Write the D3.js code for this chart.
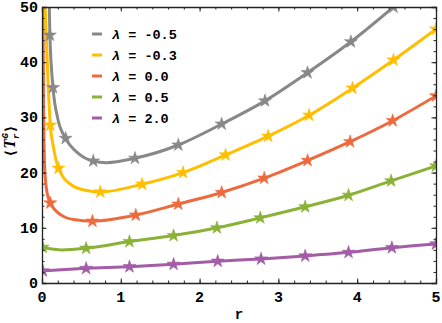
<!DOCTYPE html>
<html>
<head>
<meta charset="utf-8">
<script src="https://cdn.jsdelivr.net/npm/d3@7"></script>
<style>
  body { margin: 0; background: #fff; }
  text { font-family: "Liberation Mono", "DejaVu Sans Mono", monospace; font-weight: bold; }
</style>
</head>
<body>
<div id="container"></div>
<script>
var margin = {top: 7, right: 6, bottom: 40, left: 42},
    width = 442 - margin.left - margin.right,
    height = 323 - margin.top - margin.bottom;

// legend labels and colours
var lambdas = ["-0.5", "-0.3", "0.0", "0.5", "2.0"];
var colors = ["#888888", "#FFBF00", "#EE6A3C", "#8AB236", "#A35CA6"];

// curve points [r, <T>]
var curveM05 = [[0.093,50],[0.10,44.9],[0.14,35.4],[0.2,29.8],[0.3,26.2],[0.46,23.5],[0.65,22.1],[0.82,21.8],[1.18,22.6],[1.73,25.0],[2.28,28.8],[2.83,33.0],[3.37,38.1],[3.92,43.7],[4.46,50],[4.6,51.7]];
var curveM03 = [[0.04,50],[0.067,40],[0.105,28.6],[0.14,25],[0.21,20.8],[0.37,17.8],[0.55,16.8],[0.74,16.5],[1.27,17.9],[1.79,20.0],[2.33,23.2],[2.87,26.6],[3.39,30.4],[3.94,35.3],[4.46,40.4],[5,46.0]];
var curve00  = [[0.012,50],[0.02,32],[0.03,22.3],[0.045,18.5],[0.07,16],[0.105,14.5],[0.245,12.3],[0.4,11.5],[0.64,11.2],[1.19,12.3],[1.73,14.3],[2.28,16.4],[2.82,19.0],[3.37,22.2],[3.91,25.6],[4.45,29.4],[5,33.9]];
var curve05  = [[0,6.5],[0.1,6.2],[0.25,6.0],[0.56,6.3],[1.11,7.5],[1.67,8.6],[2.22,10.0],[2.77,11.8],[3.34,13.8],[3.89,15.9],[4.43,18.5],[5,21.2]];
var curve20  = [[0,2.2],[0.56,2.65],[1.11,2.95],[1.67,3.4],[2.23,3.95],[2.78,4.35],[3.34,4.9],[3.89,5.55],[4.44,6.4],[5,7.07]];

// r positions of the star markers on each curve
var starsM05 = [0.10,0.14,0.3,0.65,1.18,1.73,2.28,2.83,3.37,3.92,4.46];
var starsM03 = [0.105,0.21,0.74,1.27,1.79,2.33,2.87,3.39,3.94,4.46,5];
var stars00  = [0.105,0.64,1.19,1.73,2.28,2.82,3.37,3.91,4.45,5];
var stars05  = [0.01,0.56,1.11,1.67,2.22,2.77,3.34,3.89,4.43,5];
var stars20  = [0.01,0.56,1.11,1.67,2.23,2.78,3.34,3.89,4.44,5];

var xTicks = [0, 1, 2, 3, 4, 5];
var yTicks = [0, 10, 20, 30, 40, 50];

var curves = [curveM05, curveM03, curve00, curve05, curve20];
var stars = [starsM05, starsM03, stars00, stars05, stars20];

var svg = d3.select("#container")
  .append("svg")
    .attr("width", width + margin.left + margin.right)
    .attr("height", height + margin.top + margin.bottom)
  .append("g")
    .attr("transform", "translate(" + margin.left + "," + margin.top + ")");

var x = d3.scaleLinear().domain([0, 5]).range([0, width]);
var y = d3.scaleLinear().domain([0, 50]).range([height, 0]);

svg.append("clipPath").attr("id", "clip")
  .append("rect").attr("width", width).attr("height", height);

var line = d3.line()
    .x(function(d) { return x(d[0]); })
    .y(function(d) { return y(d[1]); })
    .curve(d3.curveMonotoneX);

// value on a curve at r, by walking the drawn path
function valueAt(path, px) {
  var len = path.getTotalLength(), lo = 0, hi = len;
  for (var i = 0; i < 40; i++) {
    var mid = (lo + hi) / 2, p = path.getPointAtLength(mid);
    if (p.x < px) lo = mid; else hi = mid;
  }
  return path.getPointAtLength((lo + hi) / 2).y;
}

var plot = svg.append("g").attr("clip-path", "url(#clip)");
var star = d3.symbol().type(d3.symbolStar).size(52);

// draw from last to first so gray sits on top
for (var i = curves.length - 1; i >= 0; i--) {
  var p = plot.append("path")
    .datum(curves[i])
    .attr("fill", "none")
    .attr("stroke", colors[i])
    .attr("stroke-width", 3)
    .attr("d", line);
  var node = p.node();
  plot.selectAll(".s" + i)
    .data(stars[i])
    .enter().append("path")
      .attr("class", "s" + i)
      .attr("d", star)
      .attr("fill", colors[i])
      .attr("stroke", colors[i])
      .attr("stroke-width", 0.6)
      .attr("transform", function(r) {
        return "translate(" + x(r) + "," + valueAt(node, x(r)) + ")";
      });
}

// frame with inward ticks
function frame(axis, tr, minor, major, scale) {
  var g = svg.append("g").attr("transform", tr);
  g.call(axis(scale).tickValues(minor).tickSize(-2.5).tickFormat(""));
  g.call(function(s) { s.select(".domain").remove(); });
  var g2 = svg.append("g").attr("transform", tr);
  g2.call(axis(scale).tickValues(major).tickSize(-4.5).tickFormat(""));
  return g2;
}
var xMinor = d3.range(0, 5.01, 0.2), yMinor = d3.range(0, 50.1, 2);
frame(d3.axisBottom, "translate(0," + height + ")", xMinor, xTicks, x);
frame(d3.axisTop, "translate(0,0)", xMinor, xTicks, x);
frame(d3.axisLeft, "translate(0,0)", yMinor, yTicks, y);
frame(d3.axisRight, "translate(" + width + ",0)", yMinor, yTicks, y);
svg.selectAll(".domain").attr("stroke", "#222").attr("stroke-width", 1.3);
svg.selectAll(".tick line").attr("stroke", "#222");

// tick labels
svg.selectAll(".xl").data(xTicks).enter().append("text")
  .attr("x", function(d) { return x(d); })
  .attr("y", height + 19)
  .attr("text-anchor", "middle")
  .style("font-size", "15px")
  .text(function(d) { return d; });
svg.selectAll(".yl").data(yTicks).enter().append("text")
  .attr("x", -4)
  .attr("y", function(d) { return y(d) + 5; })
  .attr("text-anchor", "end")
  .style("font-size", "15px")
  .text(function(d) { return d; });

svg.append("text")
  .attr("x", width / 2)
  .attr("y", height + 36)
  .attr("text-anchor", "middle")
  .style("font-size", "14px")
  .text("r");

var yl = svg.append("text")
  .attr("transform", "translate(-27," + (y(25) - 4) + ") rotate(-90)")
  .attr("text-anchor", "middle")
  .style("font-size", "14px");
yl.append("tspan").text("\u27E8");
yl.append("tspan").style("font-family", "Liberation Serif").style("font-style", "italic").style("font-size", "16px").text("T");
yl.append("tspan").attr("dy", 4).style("font-size", "9px").style("font-style", "italic").text("r");
yl.append("tspan").attr("dx", -5).attr("dy", -11).style("font-size", "9px").style("font-style", "italic").text("G");
yl.append("tspan").attr("dy", 7).text("\u27E9");

// legend
var leg = svg.selectAll(".leg").data(lambdas).enter().append("g")
  .attr("transform", function(d, i) { return "translate(50," + (27 + i * 21) + ")"; });
leg.append("line")
  .attr("x1", 0).attr("x2", 10)
  .attr("stroke", function(d, i) { return colors[i]; })
  .attr("stroke-width", 3);
var lt = leg.append("text")
  .attr("x", 20).attr("y", 4.5)
  .style("font-size", "13.5px")
  .attr("xml:space", "preserve");
lt.append("tspan").style("font-style", "italic").text("\u03BB");
lt.append("tspan").text(function(d) { return " = " + d; });
</script>
</body>
</html>
